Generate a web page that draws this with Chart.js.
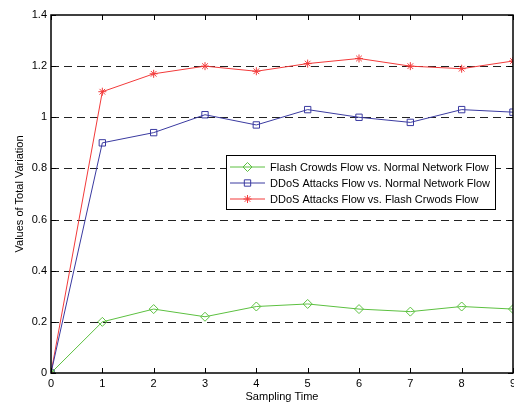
<!DOCTYPE html>
<html>
<head>
<meta charset="utf-8">
<script src="https://cdn.jsdelivr.net/npm/chart.js@4"></script>
<style>
  html, body { margin: 0; padding: 0; background: #fff; overflow: hidden; }
  #wrap { position: relative; width: 540px; height: 402px; }
</style>
</head>
<body>
<div id="wrap"><canvas id="chart"></canvas></div>
<script>
const samplingTimes = [0, 1, 2, 3, 4, 5, 6, 7, 8, 9];
const flashVsNormal = [0, 0.20, 0.25, 0.22, 0.26, 0.27, 0.25, 0.24, 0.26, 0.25];
const ddosVsNormal = [0, 0.90, 0.94, 1.01, 0.97, 1.03, 1.00, 0.98, 1.03, 1.02];
const ddosVsFlash = [0, 1.10, 1.17, 1.20, 1.18, 1.21, 1.23, 1.20, 1.19, 1.22];
const yTicks = [0, 0.2, 0.4, 0.6, 0.8, 1, 1.2, 1.4];
const seriesNames = [
    'Flash Crowds Flow vs. Normal Network Flow',
    'DDoS Attacks Flow vs. Normal Network Flow',
    'DDoS Attacks Flow vs. Flash Crwods Flow'
];

const green = '#5cc040';
const blue = '#3a3aa0';
const red = '#f23a3a';
const FONT = 'Liberation Sans, Arial, sans-serif';

const toPoints = arr => arr.map((v, i) => ({ x: samplingTimes[i], y: v }));

// matlab-style frame, inward ticks, dashed grid and boxed legend
const matlabFrame = {
    id: 'matlabFrame',
    beforeDatasetsDraw(chart) {
        const { ctx, chartArea: a, scales: { y } } = chart;
        ctx.save();
        ctx.strokeStyle = '#222';
        ctx.lineWidth = 1;
        ctx.setLineDash([8, 5]);
        yTicks.forEach(v => {
            if (v === 0 || v === 1.4) return;
            const py = Math.round(y.getPixelForValue(v)) + 0.5;
            ctx.beginPath();
            ctx.moveTo(a.left, py);
            ctx.lineTo(a.right, py);
            ctx.stroke();
        });
        ctx.restore();
    },
    afterDraw(chart) {
        const { ctx, chartArea: a, scales: { x, y } } = chart;
        ctx.save();
        ctx.strokeStyle = '#000';
        ctx.lineWidth = 1.5;
        ctx.setLineDash([]);
        ctx.strokeRect(a.left, a.top, a.right - a.left, a.bottom - a.top);
        ctx.lineWidth = 1;
        samplingTimes.forEach(v => {
            const px = Math.round(x.getPixelForValue(v)) + 0.5;
            ctx.beginPath();
            ctx.moveTo(px, a.bottom); ctx.lineTo(px, a.bottom - 5);
            ctx.moveTo(px, a.top); ctx.lineTo(px, a.top + 5);
            ctx.stroke();
        });
        yTicks.forEach(v => {
            const py = Math.round(y.getPixelForValue(v)) + 0.5;
            ctx.beginPath();
            ctx.moveTo(a.left, py); ctx.lineTo(a.left + 5, py);
            ctx.moveTo(a.right, py); ctx.lineTo(a.right - 5, py);
            ctx.stroke();
        });

        // legend box
        const bx = 226, by = 155, bw = 269, bh = 54;
        ctx.fillStyle = '#fff';
        ctx.fillRect(bx, by, bw, bh);
        ctx.strokeStyle = '#000';
        ctx.lineWidth = 1;
        ctx.strokeRect(bx + 0.5, by + 0.5, bw, bh);
        ctx.font = '11px ' + FONT;
        ctx.textBaseline = 'middle';
        chart.data.datasets.forEach((ds, i) => {
            const ly = by + 12 + i * 16;
            ctx.strokeStyle = ds.borderColor;
            ctx.lineWidth = 1;
            ctx.beginPath();
            ctx.moveTo(bx + 4, ly); ctx.lineTo(bx + 39, ly);
            ctx.stroke();
            ctx.fillStyle = ds.pointBackgroundColor;
            ctx.strokeStyle = ds.pointBorderColor;
            Chart.helpers.drawPoint(ctx, {
                pointStyle: ds.pointStyle, radius: ds.pointRadius, borderWidth: 1
            }, bx + 21.5, ly);
            ctx.fillStyle = '#000';
            ctx.fillText(ds.label, bx + 44, ly + 0.5);
        });
        ctx.restore();
    }
};

new Chart(document.getElementById('chart'), {
    type: 'line',
    data: {
        datasets: [
            { label: seriesNames[0], data: toPoints(flashVsNormal), borderColor: green,
              pointStyle: 'rectRot', pointRadius: 4.5, pointBackgroundColor: 'rgba(0,0,0,0)',
              pointBorderColor: green },
            { label: seriesNames[1], data: toPoints(ddosVsNormal), borderColor: blue,
              pointStyle: 'rect', pointRadius: 4.5, pointBackgroundColor: 'rgba(0,0,0,0)',
              pointBorderColor: blue },
            { label: seriesNames[2], data: toPoints(ddosVsFlash), borderColor: red,
              pointStyle: 'star', pointRadius: 4, pointBackgroundColor: red,
              pointBorderColor: red }
        ].map(d => Object.assign(d, { borderWidth: 1, pointBorderWidth: 1, tension: 0, fill: false }))
    },
    options: {
        responsive: true,
        maintainAspectRatio: false,
        animation: false,
        layout: { padding: { top: 15, right: 27, left: 0, bottom: 0 } },
        plugins: { legend: { display: false }, tooltip: { enabled: false } },
        scales: {
            x: {
                type: 'linear', min: 0, max: 9,
                afterFit: s => { s.height = 29; },
                afterBuildTicks: s => { s.ticks = samplingTimes.map(v => ({ value: v })); },
                grid: { display: false, drawTicks: false },
                border: { display: false },
                ticks: { color: '#000', padding: 4, maxRotation: 0, font: { family: FONT, size: 11 } },
                title: { display: true, text: 'Sampling Time', color: '#000', padding: 0,
                         font: { family: FONT, size: 11, lineHeight: 1 } }
            },
            y: {
                min: 0, max: 1.4,
                afterFit: s => { s.width = 51; },
                afterBuildTicks: s => { s.ticks = yTicks.map(v => ({ value: v })); },
                grid: { display: false, drawTicks: false },
                border: { display: false },
                ticks: { color: '#000', padding: 4, font: { family: FONT, size: 11 },
                         callback: v => String(+v.toFixed(1)) },
                title: { display: true, text: 'Values of Total Variation', color: '#000',
                         padding: { top: 14, bottom: 0 }, font: { family: FONT, size: 11, lineHeight: 1 } }
            }
        }
    },
    plugins: [matlabFrame]
});
</script>
</body>
</html>
